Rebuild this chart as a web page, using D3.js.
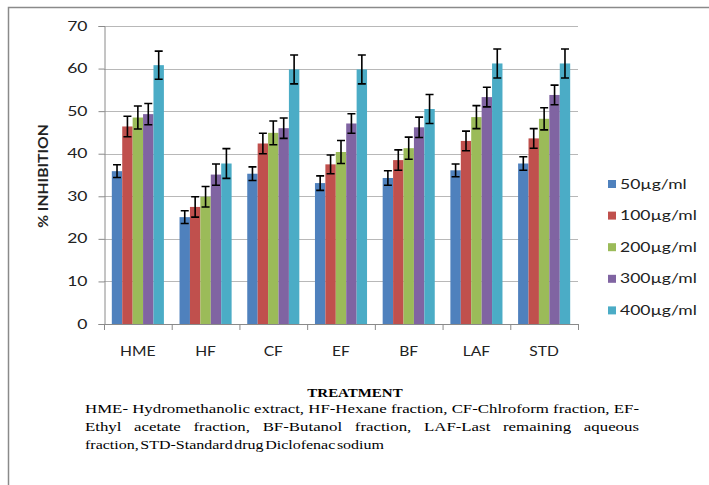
<!DOCTYPE html>
<html><head><meta charset="utf-8">
<script src="https://cdn.jsdelivr.net/npm/d3@7"></script>
<style>body{margin:0;background:#fff}svg{display:block}</style>
</head><body>
<svg id="chart" width="709" height="485"></svg>
<script>
const categories = ["HME","HF","CF","EF","BF","LAF","STD"];
const seriesNames = ["50µg/ml","100µg/ml","200µg/ml","300µg/ml","400µg/ml"];
const s50  = [35.9, 25.1, 35.3, 33.1, 34.3, 36.1, 37.7];
const s100 = [46.4, 27.5, 42.4, 37.5, 38.5, 43.0, 43.6];
const s200 = [48.5, 29.9, 44.9, 40.4, 41.3, 48.6, 48.2];
const s300 = [49.3, 35.1, 46.0, 47.1, 46.2, 53.3, 53.8];
const s400 = [60.8, 37.7, 59.8, 59.8, 50.5, 61.2, 61.2];
const e50  = [1.5, 1.5, 1.6, 1.7, 1.7, 1.5, 1.6];
const e100 = [2.4, 2.4, 2.4, 2.2, 2.4, 2.3, 2.3];
const e200 = [2.7, 2.4, 2.8, 2.7, 2.6, 2.7, 2.6];
const e300 = [2.5, 2.5, 2.4, 2.3, 2.4, 2.3, 2.3];
const e400 = [3.3, 3.5, 3.4, 3.4, 3.4, 3.4, 3.4];
const colors = ["#4F81BD","#C0504D","#9BBB59","#8064A2","#4BACC6"];
const yTicks = [0,10,20,30,40,50,60,70];
const yTitle = "% INHIBITION";
const xTitle = "TREATMENT";
const captionLines = [
  "HME- Hydromethanolic extract, HF-Hexane fraction, CF-Chlroform fraction, EF-",
  "Ethyl acetate fraction, BF-Butanol fraction, LAF-Last remaining aqueous",
  "fraction, STD-Standard drug Diclofenac sodium"
];

const values = [s50, s100, s200, s300, s400];
const errors = [e50, e100, e200, e300, e400];
const rows = [];
categories.forEach((c, i) => seriesNames.forEach((s, j) => rows.push({cat: c, ser: s, j, v: values[j][i], e: errors[j][i]})));

const svg = d3.select("#chart");
const sans = "Lato, 'Open Sans', sans-serif";
const serif = "'Liberation Serif', 'Times New Roman', serif";

function stretch(sel, k) {
  sel.each(function() {
    const L = this.getComputedTextLength();
    this.setAttribute("textLength", L * k);
    this.setAttribute("lengthAdjust", "spacingAndGlyphs");
  });
}

// frame
svg.append("path").attr("d", "M8.5,485 V7.5 H709").attr("fill", "none").attr("stroke", "#8a8a8a").attr("stroke-width", 1.5);

const x = d3.scaleBand().domain(categories).range([104, 578]).paddingInner(0).paddingOuter(0);
const xs = d3.scaleBand().domain(seriesNames).range([0, x.bandwidth()]).paddingInner(0).paddingOuter(0.75);
const y = d3.scaleLinear().domain([0, 70]).range([324, 26]);

// gridlines
svg.append("g").selectAll("line").data(yTicks.filter(t => t > 0)).join("line")
  .attr("x1", 104).attr("x2", 578).attr("y1", d => Math.round(y(d)) + 0.5).attr("y2", d => Math.round(y(d)) + 0.5)
  .attr("stroke", "#b8b8b8").attr("stroke-width", 1);

// bars
svg.append("g").selectAll("rect").data(rows).join("rect")
  .attr("x", d => x(d.cat) + xs(d.ser)).attr("width", xs.bandwidth())
  .attr("y", d => y(d.v)).attr("height", d => y(0) - y(d.v))
  .attr("fill", d => colors[d.j]);

// error bars
const eg = svg.append("g").attr("stroke", "#000").attr("stroke-width", 1.6).attr("fill", "none");
eg.selectAll("path").data(rows).join("path")
  .attr("d", d => {
    const cx = x(d.cat) + xs(d.ser) + xs.bandwidth() / 2;
    const t = y(d.v + d.e), b = y(d.v - d.e), w = 4;
    return `M${cx - w},${t}H${cx + w}M${cx},${t}V${b}M${cx - w},${b}H${cx + w}`;
  });

// y axis
const yAxis = svg.append("g").attr("transform", "translate(104.5,0)")
  .call(d3.axisLeft(y).tickValues(yTicks).tickSize(6).tickPadding(11));
yAxis.select(".domain").attr("stroke", "#8a8a8a");
yAxis.selectAll(".tick line").attr("stroke", "#8a8a8a");
yAxis.selectAll("text").attr("font-family", sans).attr("font-size", 12.5).attr("fill", "#222");
stretch(yAxis.selectAll("text"), 1.4);

// x axis
const xAxis = svg.append("g").attr("transform", "translate(0,324.5)")
  .call(d3.axisBottom(x).tickSize(0).tickPadding(0));
xAxis.select(".domain").attr("stroke", "#8a8a8a").attr("d", "M104,0H578");
xAxis.selectAll(".tick line").remove();
xAxis.selectAll("text").attr("font-family", sans).attr("font-size", 12.5).attr("fill", "#222").attr("y", 31).attr("dy", 0);
stretch(xAxis.selectAll("text"), 1.25);
svg.append("g").selectAll("line").data(categories.concat(["__end"])).join("line")
  .attr("x1", (d, i) => i < categories.length ? x(d) + 0.5 : 578.5)
  .attr("x2", (d, i) => i < categories.length ? x(d) + 0.5 : 578.5)
  .attr("y1", 324).attr("y2", 330).attr("stroke", "#8a8a8a");

// y title
const yt = svg.append("text").attr("transform", "translate(48,176) rotate(-90)")
  .attr("text-anchor", "middle").attr("font-family", sans).attr("font-weight", "bold")
  .attr("font-size", 12.5).attr("fill", "#222").text(yTitle);
stretch(yt, 1.25);

// legend
const lg = svg.append("g").selectAll("g").data(seriesNames).join("g")
  .attr("transform", (d, i) => `translate(608,${184 + i * 31.6})`);
lg.append("rect").attr("x", 0).attr("y", -4).attr("width", 8).attr("height", 8).attr("fill", (d, i) => colors[i]);
const lt = lg.append("text").attr("x", 12).attr("y", 4.5).attr("font-family", sans).attr("font-size", 12.5).attr("fill", "#222").text(d => d);
stretch(lt, 1.4);

// caption
const tt = svg.append("text").attr("x", 355).attr("y", 397).attr("text-anchor", "middle")
  .attr("font-family", serif).attr("font-weight", "bold").attr("font-size", 13).attr("fill", "#000").text(xTitle);
stretch(tt, 1.15);

const capLeft = 85, capRight = 639, capY0 = 413, capLH = 17.8, capFont = 13.5;
// horizontal stretch chosen so that the first line fills the text block at natural spacing
const probe = svg.append("text").attr("font-family", serif).attr("font-size", capFont).text(captionLines[0]);
const kCap = (capRight - capLeft) / probe.node().getComputedTextLength();
probe.remove();

captionLines.forEach((line, li) => {
  const yy = capY0 + li * capLH;
  if (li < captionLines.length - 1) {
    const words = line.split(" ");
    const g = svg.append("g");
    const ts = g.selectAll("text").data(words).join("text")
      .attr("y", yy).attr("font-family", serif).attr("font-size", capFont).attr("fill", "#000").text(d => d);
    stretch(ts, kCap);
    const widths = [];
    ts.each(function() { widths.push(+this.getAttribute("textLength")); });
    const total = d3.sum(widths);
    const gap = (capRight - capLeft - total) / (words.length - 1);
    let cx = capLeft;
    ts.each(function(d, i) { this.setAttribute("x", cx); cx += widths[i] + gap; });
  } else {
    const t = svg.append("text").attr("x", capLeft).attr("y", yy).attr("font-family", serif)
      .attr("font-size", capFont).attr("fill", "#000").attr("word-spacing", -2).text(line);
    stretch(t, kCap * 0.95);
  }
});
</script>
</body></html>
